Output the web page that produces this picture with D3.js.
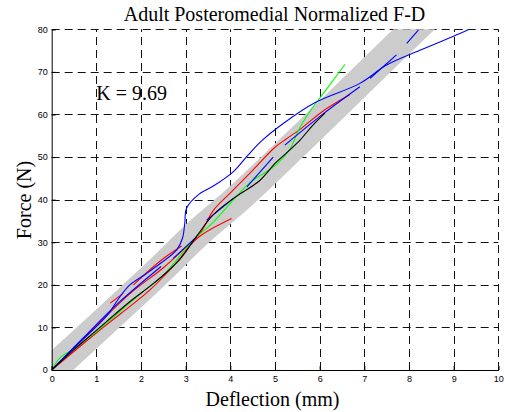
<!DOCTYPE html>
<html>
<head>
<meta charset="utf-8">
<script src="https://cdn.jsdelivr.net/npm/d3@7"></script>
<style>
  body { margin: 0; background: #fff; }
</style>
</head>
<body>
<script>
// Width and height
var w = 505;
var h = 412;

// axis ticks
var xTicks = [0, 1, 2, 3, 4, 5, 6, 7, 8, 9, 10];
var yTicks = [0, 10, 20, 30, 40, 50, 60, 70, 80];
var title = "Adult Posteromedial Normalized F-D";
var xLabel = "Deflection (mm)";
var yLabel = "Force (N)";
var kLabel = "K = 9.69";
var kPos = [1, 63.4];

// gray corridor, [deflection, force]
var band = [[-0.6, -5.8], [0, 0], [2.33, 22.4], [2.9, 28.4], [3.3, 32.6], [4.05, 39],
  [4.6, 44.4], [5.6, 54.4], [8.11, 80], [8.7, 86]];

// specimen curves (null = gap in the record)
var blueLong = [[0, 0], [0.5, 5.2], [1.08, 11], [1.3, 13.6], [1.5, 16.8], [1.75, 20], [2.1, 22.5],
  [2.43, 25], [2.8, 28.2], [2.93, 31], [2.98, 34.5], [3.02, 38], [3.3, 41.3], [3.62, 43.2],
  [4.07, 46.6], [4.4, 50.5], [4.7, 53.8], [5.2, 58], [5.9, 62.8], [6.9, 67.3], [7.5, 71.6],
  [8.3, 75.3], [9.14, 79], [9.35, 80]];
var blueGapped = [[0, 0], [0.71, 7.6], [1.5, 15.8], [2.45, 24.3], null,
  [2.72, 26.2], [3.25, 31.3], null,
  [3.47, 35.2], [4.07, 40.3], null,
  [4.37, 43], [4.96, 50], null,
  [5.22, 52.8], [6.0, 59.5], [6.9, 66.5], null,
  [7.13, 68.5], [7.72, 74], null,
  [7.95, 76.7], [8.21, 79.8]];
var black = [[0, 0], [0.5, 4.8], [1, 9.3], [1.72, 15.8], [2.3, 20.5], [2.87, 26], [3.25, 31.5],
  [3.62, 36.5], [4.07, 40.3], [4.66, 44.5], [5.0, 48.5], [5.26, 51], [5.56, 54], [5.85, 57.5],
  [6.12, 60.3]];
var redLow = [[0, 0], [1.08, 9.4], [2.2, 18.8], [2.8, 25.3], [3.1, 29.3], [3.3, 31.3],
  [3.6, 33.3], [4.03, 35.6]];
var redHigh = [[0, 0], [0.8, 8.3], [1.76, 18], [2.5, 24], [3.0, 28.8], [3.32, 32.1], [3.62, 37.5],
  [3.99, 41.5], [4.51, 47], [5.0, 52.3], [5.26, 54.3], [5.56, 56.5], [6.1, 61], [6.68, 64.7]];
var redGapped = [[1.31, 15.7], [1.6, 18.0], null, [1.83, 20.0], [2.43, 25.6], [2.91, 29.1]];
var green = [[0, 0], [0.2, 3], [0.5, 5], [1, 9], [1.5, 13.5], [2, 18], [2.5, 22.3], [3.17, 30.5],
  [3.6, 34.5], [3.99, 39], [4.44, 44], [5.04, 48.3], [5.34, 52], [5.56, 57], [5.8, 61],
  [6.05, 64.5], [6.3, 68], [6.57, 71.8]];

var series = [
  {pts: redLow, color: "#ff0000"},
  {pts: redHigh, color: "#ff0000"},
  {pts: redGapped, color: "#ff0000"},
  {pts: green, color: "#00ff00"},
  {pts: blueGapped, color: "#0000ff"},
  {pts: blueLong, color: "#0000ff"},
  {pts: black, color: "#000000"}
];

var x = d3.scaleLinear().domain([0, 10]).range([51.7, 498.3]);
var y = d3.scaleLinear().domain([0, 80]).range([370, 29.3]);

var svg = d3.select("body").append("svg")
  .attr("width", w)
  .attr("height", h);

svg.append("clipPath").attr("id", "plotclip")
  .append("rect")
  .attr("x", x(0)).attr("y", y(80))
  .attr("width", x(10) - x(0)).attr("height", y(0) - y(80));

// grid
var grid = svg.append("g").attr("stroke", "#111").attr("stroke-width", 1)
  .attr("stroke-dasharray", "8,5").attr("fill", "none");
grid.selectAll(".gx").data(xTicks.slice(1)).enter().append("line")
  .attr("x1", function(d) { return Math.round(x(d)) + 0.5; })
  .attr("x2", function(d) { return Math.round(x(d)) + 0.5; })
  .attr("y1", y(0)).attr("y2", y(80));
grid.selectAll(".gy").data(yTicks.slice(1)).enter().append("line")
  .attr("y1", function(d) { return Math.round(y(d)) + 0.5; })
  .attr("y2", function(d) { return Math.round(y(d)) + 0.5; })
  .attr("x1", x(0)).attr("x2", x(10));

var plot = svg.append("g").attr("clip-path", "url(#plotclip)");

var bandLine = d3.line()
  .curve(d3.curveBasis)
  .x(function(d) { return x(d[0]); })
  .y(function(d) { return y(d[1]); });

var line = d3.line()
  .defined(function(d) { return d !== null; })
  .curve(d3.curveCatmullRom)
  .x(function(d) { return x(d[0]); })
  .y(function(d) { return y(d[1]); });

plot.append("path")
  .attr("d", bandLine(band))
  .attr("fill", "none")
  .attr("stroke", "#cccccc")
  .attr("stroke-width", 29)
  .attr("stroke-linejoin", "round");

plot.selectAll(".curve").data(series).enter().append("path")
  .attr("class", "curve")
  .attr("d", function(d) { return line(d.pts); })
  .attr("fill", "none")
  .attr("stroke", function(d) { return d.color; })
  .attr("stroke-width", 1.1);

// axes
var xAxis = svg.append("g").attr("transform", "translate(0," + y(0) + ")")
  .call(d3.axisBottom(x).tickValues(xTicks).tickSize(-4).tickPadding(6));
var yAxis = svg.append("g").attr("transform", "translate(" + x(0) + ",0)")
  .call(d3.axisLeft(y).tickValues(yTicks).tickSize(-4).tickPadding(4));
[xAxis, yAxis].forEach(function(a) {
  a.selectAll("text").attr("font-family", "Liberation Sans, Arial, sans-serif")
    .attr("font-size", 9).attr("fill", "#000");
  a.selectAll("line, path").attr("stroke", "#000");
});

svg.append("text")
  .attr("x", 274.5).attr("y", 20.7)
  .attr("text-anchor", "middle")
  .attr("font-family", "Liberation Serif, Times New Roman, serif")
  .attr("font-size", 20)
  .text(title);

svg.append("text")
  .attr("x", 272.5).attr("y", 406)
  .attr("text-anchor", "middle")
  .attr("font-family", "Liberation Serif, Times New Roman, serif")
  .attr("font-size", 20)
  .text(xLabel);

svg.append("text")
  .attr("transform", "translate(30.5,200) rotate(-90)")
  .attr("text-anchor", "middle")
  .attr("font-family", "Liberation Serif, Times New Roman, serif")
  .attr("font-size", 20)
  .text(yLabel);

svg.append("text")
  .attr("x", x(kPos[0])).attr("y", y(kPos[1]))
  .attr("font-family", "Liberation Serif, Times New Roman, serif")
  .attr("font-size", 20)
  .text(kLabel);
</script>
</body>
</html>
